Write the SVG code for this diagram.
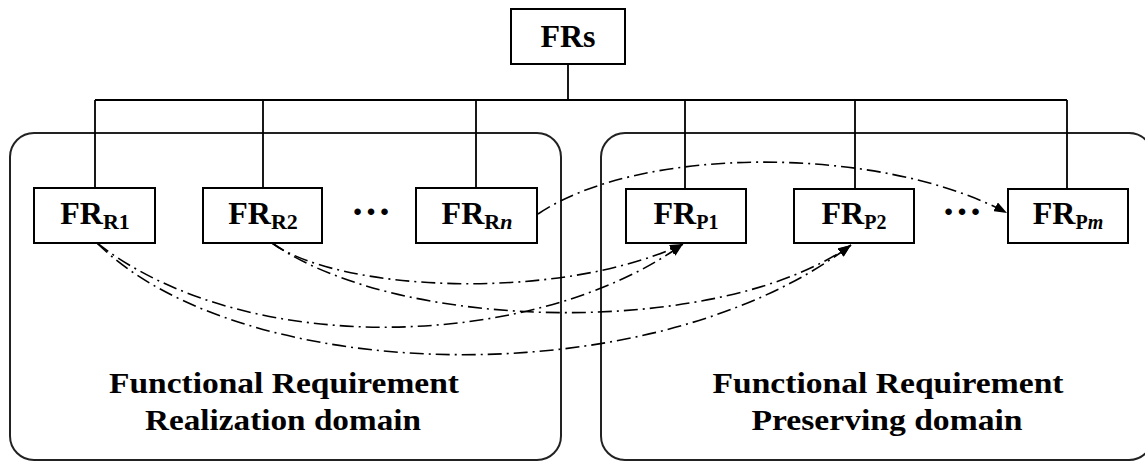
<svg xmlns="http://www.w3.org/2000/svg" width="1145" height="462" viewBox="0 0 1145 462">
<defs>
<style>
.box{fill:#fff;stroke:#000;stroke-width:2}
.dom{fill:none;stroke:#222;stroke-width:2}
.tree{fill:none;stroke:#000;stroke-width:1.8}
.dd{fill:none;stroke:#000;stroke-width:1.6;stroke-dasharray:14 5 2 5}
.t{font-family:"Liberation Serif","Times New Roman",serif;font-weight:bold;fill:#000}
.n{font-size:32px;text-anchor:middle}
.lab{font-size:29px;text-anchor:middle}
.sr{font-size:22px}
.sp{font-size:20px}
</style>
<marker id="ah" markerUnits="userSpaceOnUse" markerWidth="13" markerHeight="10" refX="13" refY="5" orient="auto">
<path d="M0,0 L13,5 L0,10 z" fill="#000"/>
</marker>
</defs>
<rect width="1145" height="462" fill="#fff"/>
<g id="domain-realization">
<rect class="dom" x="10" y="133" width="551" height="327" rx="24" ry="24"/>
<text class="t lab" x="284" y="393" textLength="350" lengthAdjust="spacingAndGlyphs">Functional Requirement</text>
<text class="t lab" x="283" y="430" textLength="276" lengthAdjust="spacingAndGlyphs">Realization domain</text>
</g>
<g id="domain-preserving">
<rect class="dom" x="601" y="133" width="552" height="327" rx="24" ry="24"/>
<text class="t lab" x="888" y="393" textLength="351" lengthAdjust="spacingAndGlyphs">Functional Requirement</text>
<text class="t lab" x="887" y="430" textLength="271" lengthAdjust="spacingAndGlyphs">Preserving domain</text>
</g>
<g id="tree">
<path class="tree" d="M568,64 V100 M95,100 H1067 M95,100 V188 M263,100 V188 M476,100 V188 M685,100 V189 M855,100 V189 M1067,100 V189"/>
</g>
<g id="FRs">
<rect class="box" x="511" y="9" width="114" height="55"/>
<text class="t n" x="568" y="47">FRs</text>
</g>
<g id="FR_R1">
<rect class="box" x="34" y="188" width="121" height="55"/>
<text class="t n" x="95" y="224">FR<tspan class="sr" dy="5">R1</tspan></text>
</g>
<g id="FR_R2">
<rect class="box" x="203" y="188" width="119" height="55"/>
<text class="t n" x="263" y="224">FR<tspan class="sr" dy="5">R2</tspan></text>
</g>
<g id="dots-R">
<text class="t" x="371" y="215" font-size="40" text-anchor="middle">…</text>
</g>
<g id="FR_Rn">
<rect class="box" x="416" y="188" width="121" height="55"/>
<text class="t n" x="477" y="224">FR<tspan class="sr" dy="5">R</tspan><tspan class="sr" font-style="italic">n</tspan></text>
</g>
<g id="FR_P1">
<rect class="box" x="626" y="189" width="120" height="54"/>
<text class="t n" x="686" y="224">FR<tspan class="sp" dy="5">P1</tspan></text>
</g>
<g id="FR_P2">
<rect class="box" x="794" y="189" width="120" height="54"/>
<text class="t n" x="854" y="224">FR<tspan class="sp" dy="5">P2</tspan></text>
</g>
<g id="dots-P">
<text class="t" x="962" y="215" font-size="40" text-anchor="middle">…</text>
</g>
<g id="FR_Pm">
<rect class="box" x="1008" y="189" width="120" height="54"/>
<text class="t n" x="1068" y="224">FR<tspan class="sp" dy="5">P</tspan><tspan class="sp" font-style="italic">m</tspan></text>
</g>
<g id="connectors">
<path class="dd" marker-end="url(#ah)" d="M538,214 C640,145 880,145 1007,213"/>
<path class="dd" marker-end="url(#ah)" d="M97,243 C250,362 540,348 683,244"/>
<path class="dd" marker-end="url(#ah)" d="M97,243 C240,385 650,398 851,245"/>
<path class="dd" marker-end="url(#ah)" d="M272,243 C340,292 560,302 683,244"/>
<path class="dd" marker-end="url(#ah)" d="M272,243 C400,333 720,338 851,245"/>
</g>
</svg>
